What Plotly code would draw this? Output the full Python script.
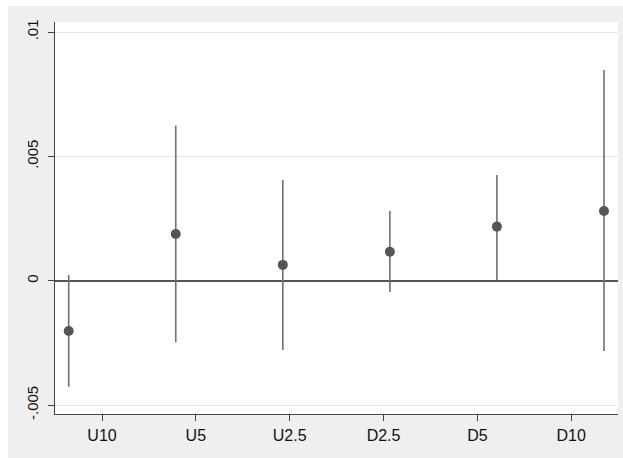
import numpy as np
import plotly.graph_objects as go

# Coefficient estimates with 95% confidence bounds, by shock bucket
categories = ["U10", "U5", "U2.5", "D2.5", "D5", "D10"]
estimate = [-0.00202, 0.00188, 0.00064, 0.00117, 0.00218, 0.00281]
ci_high = [0.00023, 0.00624, 0.00405, 0.00281, 0.00426, 0.00848]
ci_low = [-0.00426, -0.00247, -0.00278, -0.00045, 0.00003, -0.00282]
y_ticks = [-0.005, 0, 0.005, 0.01]
y_tick_text = ["-.005", "0", ".005", ".01"]

est = np.array(estimate)
err_plus = np.array(ci_high) - est
err_minus = est - np.array(ci_low)
x_pos = np.arange(len(categories))
label_pos = np.linspace(0.311, 4.694, len(categories))

BG = "#EFEFEF"
fig = go.Figure()
fig.add_trace(go.Scatter(
    x=x_pos, y=est, mode="markers",
    marker=dict(color="#555555", size=10, line=dict(width=0)),
    error_y=dict(type="data", symmetric=False, array=err_plus, arrayminus=err_minus,
                 color="#707070", thickness=1.6, width=0),
    showlegend=False, hoverinfo="skip",
))

fig.update_layout(
    width=623, height=458,
    margin=dict(l=55, r=5, t=22, b=44),
    paper_bgcolor="white", plot_bgcolor="white",
    font=dict(family="Liberation Sans, Arial, sans-serif", color="#111111", size=14),
    shapes=[
        dict(type="rect", xref="paper", yref="paper", x0=-0.0835, x1=1.01, y0=-0.112, y1=1.041,
             fillcolor=BG, line=dict(width=0), layer="below"),
        dict(type="rect", xref="paper", yref="paper", x0=0, x1=1, y0=0, y1=1,
             fillcolor="white", line=dict(width=0), layer="below"),
    ],
)
fig.update_xaxes(
    range=[-0.128, 5.131], tickmode="array", tickvals=label_pos, ticktext=categories,
    showgrid=False, zeroline=False, showline=True, linecolor="#444444", linewidth=1,
    ticks="outside", ticklen=6, tickcolor="#444444", tickfont=dict(size=16),
    ticklabelstandoff=1,
)
fig.update_yaxes(
    range=[-0.005357, 0.010409], tickmode="array", tickvals=y_ticks, ticktext=y_tick_text,
    tickangle=-90, showgrid=True, gridcolor="#E6E6E6", gridwidth=1,
    zeroline=True, zerolinecolor="#555555", zerolinewidth=1.5,
    showline=True, linecolor="#444444", linewidth=1,
    ticks="outside", ticklen=6, tickcolor="#444444", tickfont=dict(size=15),
    ticklabelstandoff=4,
)

fig.write_html("out.html")
